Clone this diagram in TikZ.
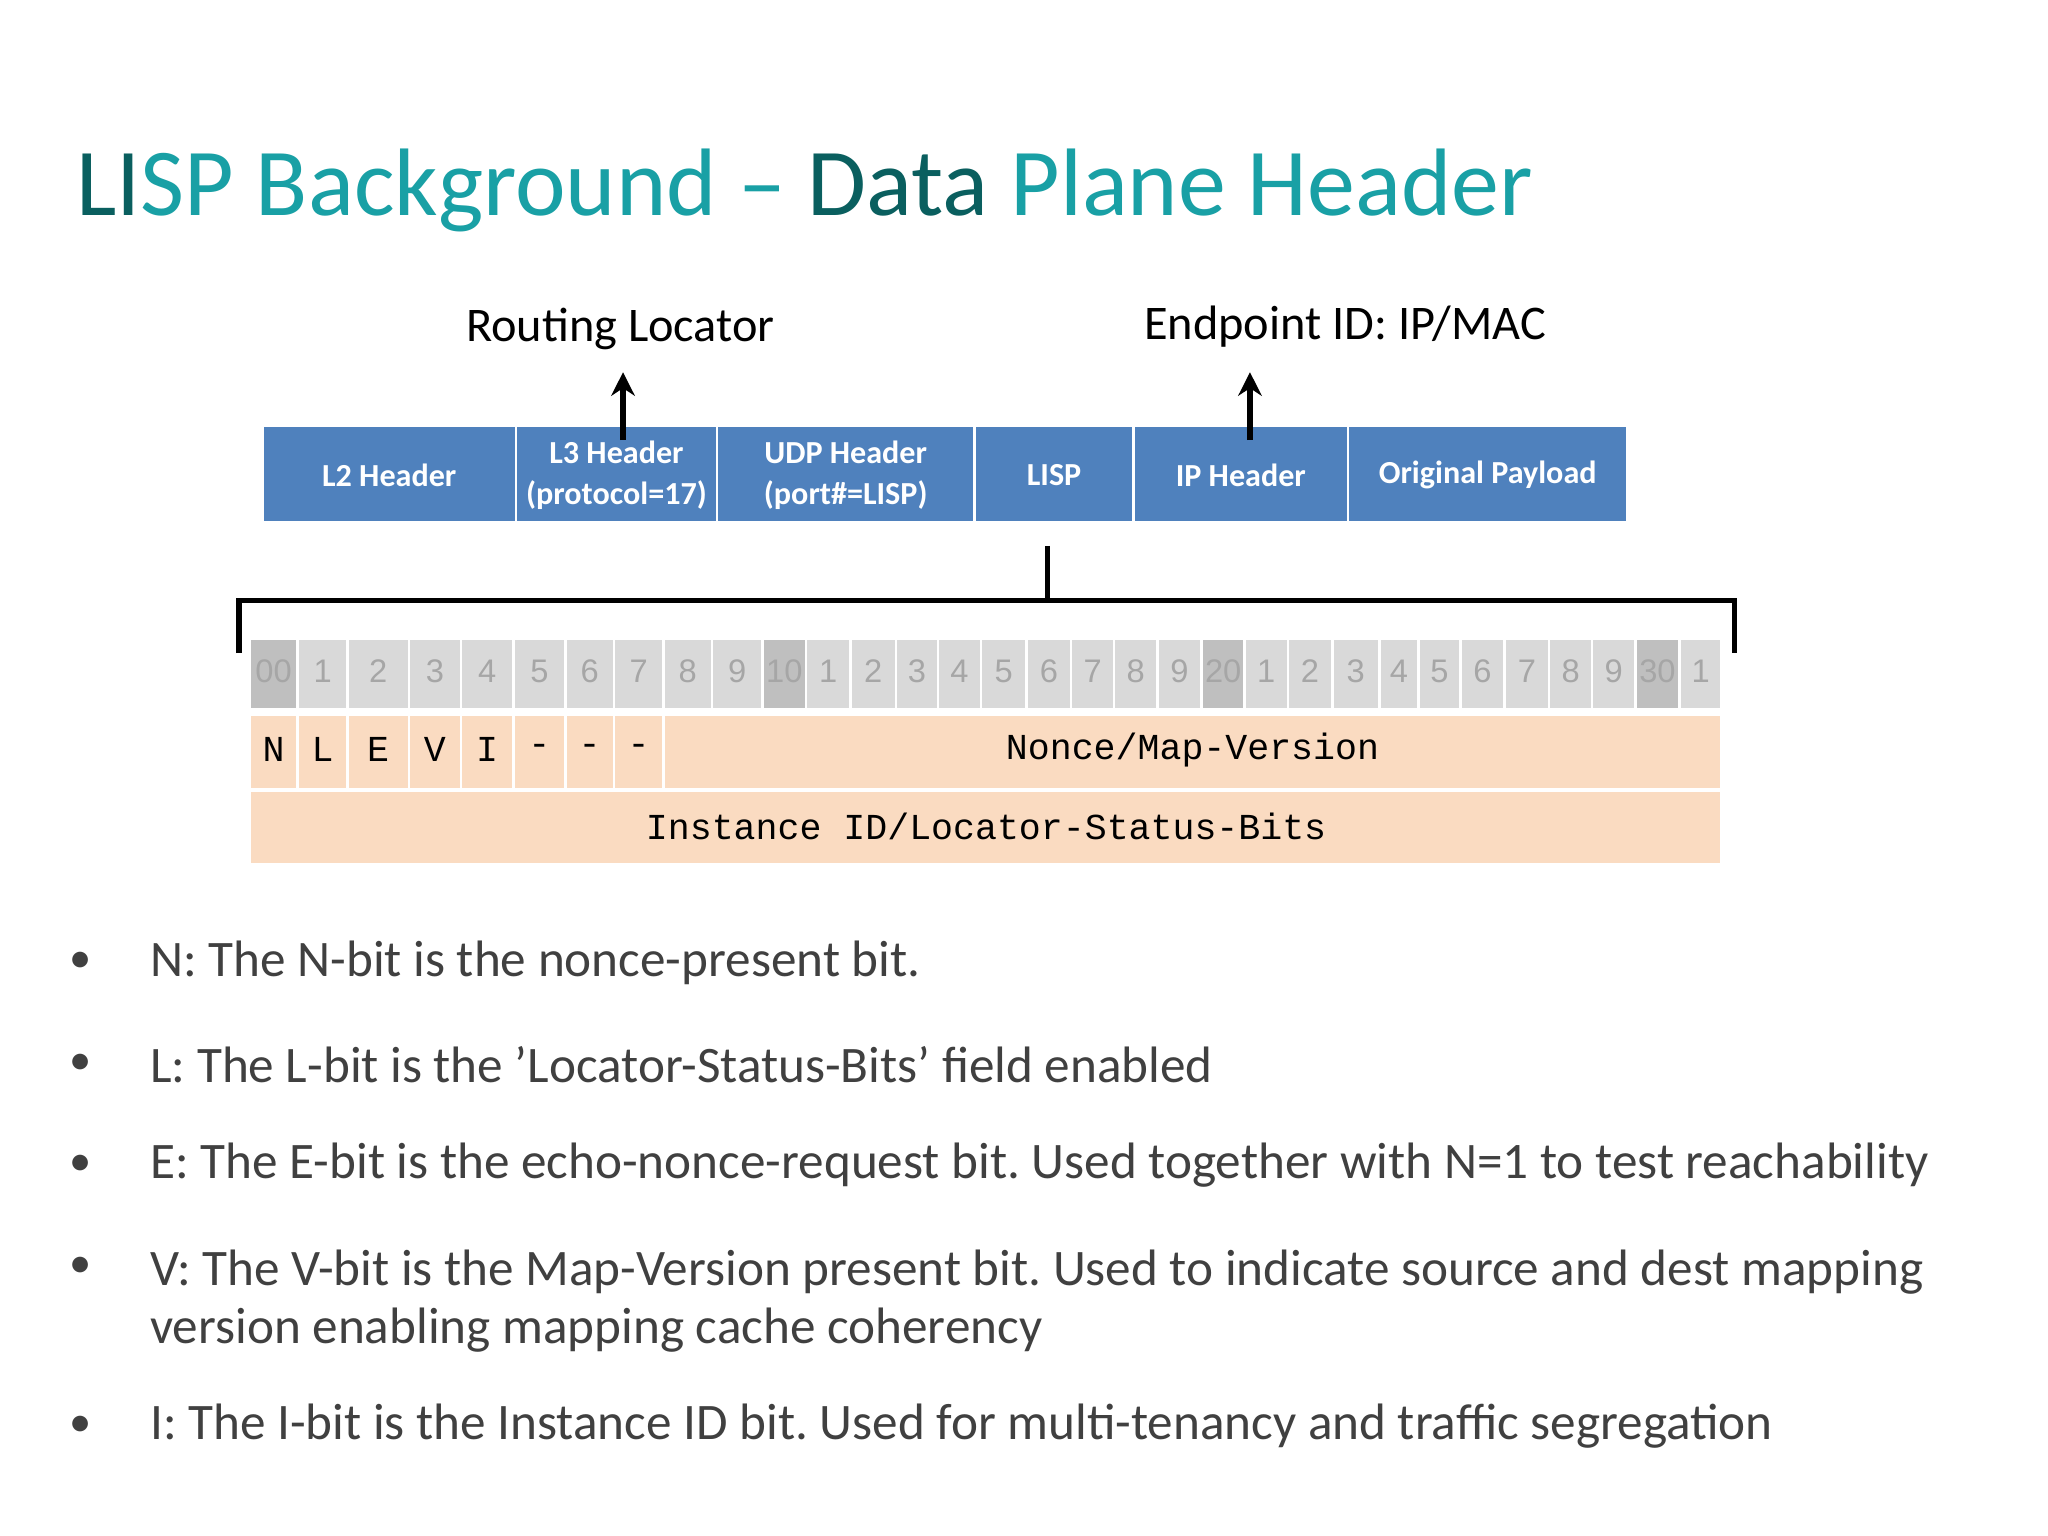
\documentclass[tikz,border=0pt]{standalone}
\usepackage{fontspec}
\usetikzlibrary{arrows.meta}
\setmainfont{Carlito}
\newfontfamily\monof{Liberation Mono}
\newfontfamily\bitf{Liberation Sans}
\definecolor{tealt}{RGB}{25,160,165}
\definecolor{tealdk}{RGB}{10,95,95}
\definecolor{boxb}{RGB}{79,129,189}
\definecolor{bitl}{RGB}{217,217,217}
\definecolor{bitd}{RGB}{191,191,191}
\definecolor{bitt}{RGB}{166,166,166}
\definecolor{peach}{RGB}{250,219,193}
\definecolor{txtg}{RGB}{64,64,64}
\tikzset{x=0.5pt,y=-0.5pt,
 hdr/.style={draw=white,line width=1pt,fill=boxb},
 bit/.style={draw=white,line width=1pt,fill=bitl},
 fld/.style={draw=white,line width=1pt,fill=peach},
 bul/.style={anchor=west,text=txtg,font=\fontsize{19.6}{22}\selectfont,align=left},
 lbl/.style={font=\fontsize{18.5}{21}\selectfont}}
\frenchspacing
\begin{document}
\begin{tikzpicture}
\useasboundingbox[fill=white] (0,0) rectangle (1568,1176);
\node[anchor=base west,text=tealt,font=\fontsize{36.7}{44}\selectfont,inner sep=0] (title) at (58,165) {\textcolor{tealdk}{LI}SP Background -- \textcolor{tealdk}{Data} Plane Header};
% header boxes
\foreach \a/\b/\t/\n in {201/395/L2 Header/h1,395/549/L3 Header\\(protocol=17)/h2,549/746/UDP Header\\(port\#=LISP)/h3,746/868/LISP/h4,868/1032/IP Header/h5,1032/1246/Original Payload/h6}{
 \path[hdr] (\a,326) rectangle (\b,400);
 \node[text=white,font=\bfseries\fontsize{12.3}{15.5}\selectfont,align=center,inner sep=0] (\n) at ({(\a+\b)/2},364) {\t};
}
\node[lbl] (rl) at (475,252) {Routing Locator};
\node[lbl] (ep) at (1030,250) {Endpoint ID: IP/MAC};
\coordinate (a1) at (477,337); \coordinate (a2) at (957,337);
\coordinate (t1) at (477,285); \coordinate (t2) at (957,285);
\draw[line width=2.5pt,-{Stealth[length=9pt,width=9pt]}] (a1) -- (t1);
\draw[line width=2.5pt,-{Stealth[length=9pt,width=9pt]}] (a2) -- (t2);
% bracket
\coordinate (v1) at (802,418); \coordinate (v2) at (802,460);
\draw[line width=2pt] (v1) -- (v2);
\draw[line width=2pt] (183,500) -- (183,460) -- (1328,460) -- (1328,500);
% bit row
\def\bnds{191,228,266,313,353,393,433,470,508,545,584,617,651,686,718,751,786,820,853,886,920,953,986,1020,1056,1086,1118,1152,1186,1219,1252,1286,1318}
\foreach \lab [count=\j from 0] in {00,1,2,3,4,5,6,7,8,9,10,1,2,3,4,5,6,7,8,9,20,1,2,3,4,5,6,7,8,9,30,1}{
 \pgfmathsetmacro\xa{{\bnds}[\j]}
 \pgfmathsetmacro\xb{{\bnds}[\j+1]}
 \pgfmathtruncatemacro\md{mod(\j,10)}
 \ifnum\md=0 \path[bit,fill=bitd] (\xa,489) rectangle (\xb,543);
 \else \path[bit] (\xa,489) rectangle (\xb,543);\fi
 \node[text=bitt,font=\bitf\fontsize{12.5}{14}\selectfont] (b\j) at ({(\xa+\xb)/2},514) {\lab};
}
% flags
\foreach \a/\b/\t/\n in {191/228/N/f1,228/266/L/f2,266/313/E/f3,313/353/V/f4,353/393/I/f5,393/433/-/f6,433/470/-/f7,470/508/-/f8}{
 \path[fld] (\a,547) rectangle (\b,604);
 \node[font=\monof\fontsize{14}{16}\selectfont] (\n) at ({(\a+\b)/2},574) {\t};
}
\path[fld] (508,547) rectangle (1318,604);
\node[font=\monof\fontsize{14}{16}\selectfont] (f9) at (913,574) {Nonce/Map-Version};
\path[fld] (191,605) rectangle (1318,662);
\node[font=\monof\fontsize{14}{16}\selectfont] (inst) at (755,633) {Instance ID/Locator-Status-Bits};
% bullets
\foreach \y/\n in {737/u1,815/u2,892/u3,970/u4,1092/u5}{
 \node[text=txtg,font=\fontsize{17}{21}\selectfont] (\n) at (62,\y) {\textbullet};
}
\node[bul] (t1b) at (108,737) {N: The N-bit is the nonce-present bit.};
\node[bul] (t2b) at (108,815) {L: The L-bit is the \symbol{39}Locator-Status-Bits\symbol{39} field enabled};
\node[bul] (t3b) at (108,892) {E: The E-bit is the echo-nonce-request bit. Used together with N=1 to test reachability};
\node[bul,anchor=north west] (t4b) at (108,950) {V: The V-bit is the Map-Version present bit. Used to indicate source and dest mapping\\version enabling mapping cache coherency};
\node[bul] (t5b) at (108,1092) {I: The I-bit is the Instance ID bit. Used for multi-tenancy and traffic segregation};
\end{tikzpicture}
\end{document}
